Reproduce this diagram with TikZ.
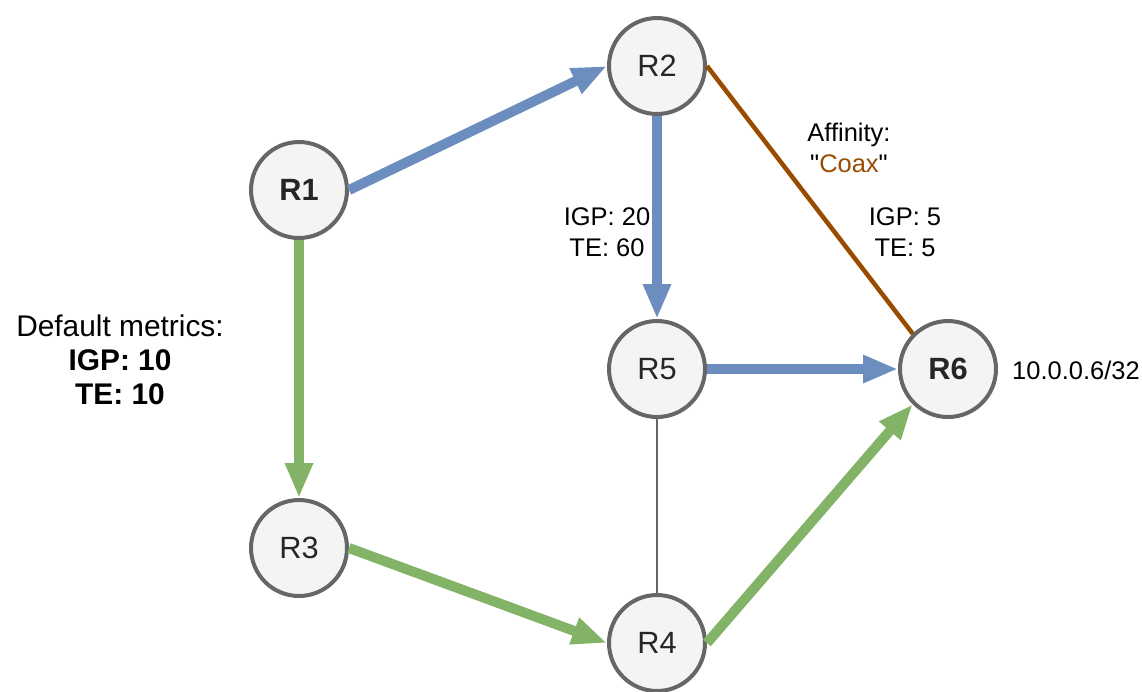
\documentclass[tikz,border=0pt]{standalone}
\usepackage{fontspec}
\setmainfont{Liberation Sans}
\newfontfamily\quotefont{Liberation Sans}
\usepackage{xcolor}
\usetikzlibrary{arrows.meta,positioning}
\definecolor{rtrgray}{HTML}{666666}
\definecolor{rtrfill}{HTML}{F4F4F4}
\definecolor{pathblue}{HTML}{6C8EBF}
\definecolor{pathgreen}{HTML}{82B366}
\definecolor{coaxbrown}{HTML}{994C00}

\begin{document}
\begin{tikzpicture}[
        x=0.02cm, y=-0.02cm,
        router/.style={
          circle,
          draw=rtrgray,
          fill=rtrfill,
          line width=0.08cm,
          minimum size=1.92cm,
          inner sep=0pt,
          text=black!85,
          font=\fontsize{17.5}{20}\selectfont
        },
        metric/.style={
          align=center,
          font=\fontsize{14.5}{17.4}\selectfont
        },
        bluearrow/.style={
          -{Triangle[length=0.7cm,width=0.52cm]},
          line width=0.2cm,
          pathblue
        },
        greenarrow/.style={
          -{Triangle[length=0.7cm,width=0.52cm]},
          line width=0.2cm,
          pathgreen
        }
      ]
      \useasboundingbox (0,0) rectangle (1142,691);

      % routers
      \node[router] (r1) at (299,190) {\bfseries R1};
      \node[router] (r2) at (657,66) {R2};
      \node[router] (r5) at (657,369) {R5};
      \node[router] (r6) at (948,369) {\bfseries R6};
      \node[router] (r3) at (299,548) {R3};
      \node[router] (r4) at (657,643) {R4};

      % links
      \draw[coaxbrown, line width=0.09cm] (r2.east) -- (r6.north west);
      \draw[rtrgray, line width=0.05cm] (r5.south) -- (r4.north);
      \draw[bluearrow] (r1.east) -- (r2.west);
      \draw[bluearrow] (r2.south) -- (r5.north);
      \draw[bluearrow] (r5.east) -- (r6.west);
      \draw[greenarrow] (r1.south) -- (r3.north);
      \draw[greenarrow] (r3.east) -- (r4.west);
      \draw[greenarrow] (r4.east) -- (r6.south west);

      % labels
      \node[metric] (m25) at (607,232) {IGP: 20\\TE: 60};
      \node[metric] (aff) at (849,148) {Affinity:\\{\quotefont"}\textcolor{coaxbrown}{Coax}{\quotefont"}};
      \node[metric] (m26) at (905,232) {IGP: 5\\TE: 5};
      \node[metric, anchor=west] (pfx) at (1006,370) {10.0.0.6/32};
      \node[align=center, font=\fontsize{17}{19.5}\selectfont] (dflt) at (120,360)
        {Default metrics:\\\textbf{IGP: 10}\\\textbf{TE: 10}};

      \end{tikzpicture}
\end{document}
